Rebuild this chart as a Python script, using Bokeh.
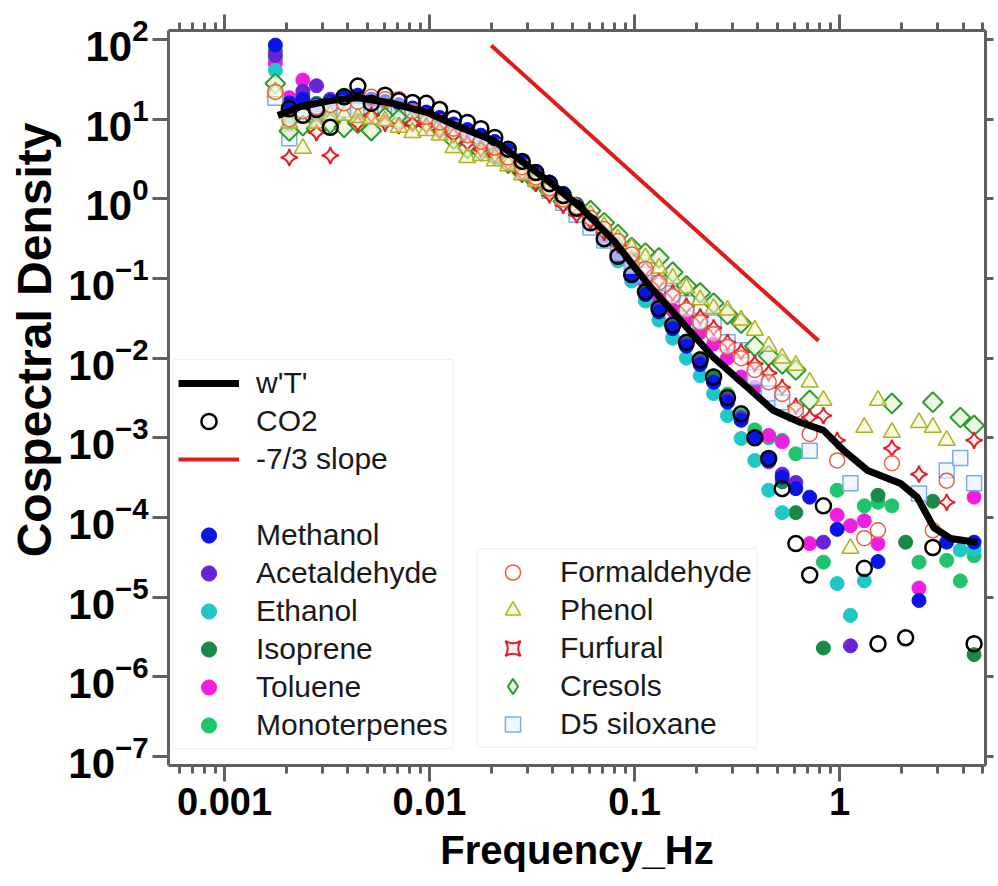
import math
from bokeh.plotting import figure
from bokeh.models import (Range1d, LogAxis, FixedTicker, Legend, LegendItem, Title,
                          LogTickFormatter, CustomJSTickFormatter)
from bokeh.embed import file_html
from bokeh.resources import INLINE

nan = float("nan")

freq = [0.00177, 0.00207, 0.00241, 0.00281, 0.00328, 0.00383, 0.00447, 0.0052, 0.00607, 0.00708,
        0.00826, 0.00964, 0.0112, 0.0131, 0.0153, 0.0178, 0.0208, 0.0242, 0.0283, 0.033,
        0.0385, 0.0449, 0.0522, 0.061, 0.0711, 0.083, 0.0968, 0.113, 0.1315, 0.1535,
        0.179, 0.209, 0.243, 0.284, 0.331, 0.386, 0.451, 0.525, 0.612, 0.715,
        0.834, 0.973, 1.13, 1.32, 1.54, 1.80, 2.10, 2.44, 2.85, 3.33, 3.88, 4.53]

methanol = [85, 16, 17.8, 15.1, 16.6, 19.1, 20, 17.8, 16.6, 15.1, 13.8, 12.3, 10.5, 8.7, 7.4, 6.3, 5.2, 4.0,
            2.95, 2.19, 1.62, 1.17, 0.85, 0.575, 0.347, 0.20, 0.112, 0.063, 0.038, 0.0234, 0.0141, 0.0083,
            0.0050, 0.0028, 0.00166, 0.0010, 5.6e-4, 3.2e-4, 2.3e-4, 1.8e-4, nan, 7.1e-5, nan, nan, 2.8e-5,
            nan, nan, 9.1e-6, nan, 4.9e-5, nan, 4.9e-5]
acetaldehyde = [63, 14.1, 22.4, 26.3, 17.8, 18.2, 19.1, 17.4, 16.2, 15.1, 13.5, 12.0, 10.2, 8.5, 7.2, 6.2, 5.2,
                4.0, 2.95, 2.19, 1.62, 1.15, 0.83, 0.56, 0.34, 0.195, 0.112, 0.063, 0.040, 0.024, 0.0148,
                0.0087, 0.0050, 0.0030, 0.00178, 0.0010, 5.0e-4, 3.5e-4, 2.75e-4, nan, 4.9e-5, nan, 2.45e-6,
                nan, nan, nan, nan, nan, nan, nan, nan, nan]
ethanol = [41, 11.2, 14.1, 14.1, 15.8, 16.6, 17.8, 16.6, 15.8, 14.8, 13.2, 11.5, 9.8, 8.1, 6.9, 5.9, 4.9, 3.7,
           2.75, 2.04, 1.48, 1.05, 0.74, 0.49, 0.295, 0.166, 0.093, 0.052, 0.030, 0.0178, 0.0100, 0.0060,
           0.0036, 0.0019, 9.8e-4, 5.2e-4, 2.2e-4, 1.15e-4, nan, nan, nan, 1.48e-5, 5.9e-6, 1.6e-5, nan,
           nan, nan, nan, nan, nan, 3.9e-5, 4.0e-5]
isoprene = [71, 12.6, 20, 15.8, 17.0, 18.6, 19.5, 17.8, 16.6, 15.1, 13.5, 12.0, 10.2, 8.5, 7.2, 6.2, 5.2, 4.0,
            2.95, 2.19, 1.62, 1.17, 0.83, 0.575, 0.355, 0.204, 0.117, 0.068, 0.042, 0.026, 0.0158, 0.0095,
            0.0056, 0.0032, 0.0018, 0.0010, 5.5e-4, 2.8e-4, 1.15e-4, nan, 2.3e-6, nan, nan, nan, 1.9e-4,
            nan, 4.9e-5, nan, 1.6e-4, nan, nan, 1.9e-6]
toluene = [50, 18.6, 31, 11.2, 14.1, 17.8, 19.1, 17.4, 16.2, 15.1, 13.5, 12.0, 10.2, 8.5, 7.2, 6.2, 5.2, 4.0,
           2.95, 2.19, 1.62, 1.17, 0.85, 0.59, 0.38, 0.24, 0.145, 0.087, 0.055, 0.040, 0.0295, 0.021,
           0.0151, 0.0100, 0.0058, 0.0043, 0.00107, 8.9e-4, nan, 4.7e-5, nan, 1.07e-4, 7.9e-5, 9.1e-5,
           4.7e-5, nan, nan, 1.3e-5, nan, nan, nan, 1.8e-4]
monoterpenes = [56, 8.9, 17.8, 13.5, 15.8, 20, 18.6, 17.8, 16.6, 15.1, 13.5, 12.0, 10.2, 8.5, 7.2, 6.2, 5.2,
                4.0, 2.95, 2.19, 1.62, 1.17, 0.83, 0.56, 0.347, 0.20, 0.115, 0.066, 0.042, 0.026, 0.0162,
                0.0100, 0.0060, 0.00355, 0.0020, 0.00126, 0.0010, 9.3e-4, 6.3e-4, nan, 2.75e-5, 2.2e-4, nan,
                1.4e-4, 1.55e-4, 1.4e-4, nan, 2.75e-5, nan, 2.9e-5, 1.6e-5, 3.3e-5]
co2 = [nan, 13.5, 11.2, 13.2, 7.9, 19.1, 26, 15.8, 20, 17, 16.2, 15.8, 13.2, 10.2, 9.1, 7.6, 5.9, 4.2, 2.95,
       2.14, 1.55, 1.10, 0.76, 0.50, 0.316, 0.19, 0.112, 0.068, 0.042, 0.026, 0.0158, 0.0095, 0.0058,
       0.0032, 0.0020, 0.0010, 5.5e-4, 2.3e-4, 4.7e-5, 1.9e-5, 1.4e-4, nan, nan, 2.3e-5, 2.6e-6, nan,
       3.1e-6, nan, 4.2e-5, nan, nan, 2.6e-6]
formaldehyde = [22, 10, 12.6, 14.1, 15.1, 15.8, 16.6, 19.1, 17.8, 17.8, 12.6, 10.7, 9.1, 7.6, 6.3, 5.2, 4.4,
                3.3, 2.5, 1.86, 1.35, 0.98, 0.79, 0.575, 0.417, 0.295, 0.20, 0.132, 0.089, 0.060, 0.040,
                0.028, 0.020, 0.0138, 0.0100, 0.0071, 0.0050, 0.00355, 0.00224, 0.00112, nan, 5.2e-4, nan,
                5.5e-5, 6.9e-5, 4.8e-4, nan, nan, 6.9e-5, 2.9e-4, nan, nan]
phenol = [22, 8.9, 4.3, 8.9, 11.2, 11.2, 10.5, 10, 9.5, 7.9, 6.8, 7.2, 6.3, 4.4, 3.3, 3.5, 3.0, 2.6, 2.0,
          1.66, 1.32, 1.0, 0.76, 0.63, 0.45, 0.316, 0.24, 0.182, 0.135, 0.100, 0.076, 0.054, 0.042, 0.040,
          0.030, 0.0224, 0.0141, 0.010, 0.0081, 0.0050, 0.00295, nan, 4.1e-5, 0.00135, 0.00295, 0.00117,
          nan, 0.00155, 0.00135, 9.3e-4, nan, nan]
furfural = [nan, 3.3, nan, 6.8, 3.5, nan, 8.9, 11.2, 8.9, 8.3, 8.9, 8.3, 7.2, 6.3, 5.0, 4.2, 3.5, 2.8, 2.1,
            1.58, 1.12, 0.83, 0.63, 0.525, 0.38, 0.263, 0.178, 0.132, 0.093, 0.066, 0.045, 0.033, 0.024,
            0.0158, 0.012, 0.0085, 0.0065, 0.0043, 0.0025, 0.0018, 0.0019, 9.3e-4, nan, nan, nan, 7.4e-4,
            nan, 3.5e-4, nan, 1.55e-4, nan, 9.3e-4]
cresols = [28, 7.1, 8.3, 7.6, 8.9, 7.9, 8.9, 7.2, 10.5, 10, 9.5, 9.1, 7.6, 5.6, 4.3, 4.0, 3.5, 2.8, 2.14,
           1.66, 1.26, 0.93, 0.79, 0.71, 0.50, 0.355, 0.245, 0.209, 0.182, 0.120, 0.081, 0.066, 0.049,
           0.0355, 0.0275, 0.0141, 0.0107, 0.0085, 0.0071, 0.00295, nan, nan, nan, nan, nan, 0.0027, nan,
           nan, 0.0028, nan, 0.0018, 0.00143]
d5_siloxane = [18.6, 5.75, 11.2, 12.6, 14.1, 13.2, 12.9, 13.2, 12.6, 12.6, 12.0, 10.5, 9.1, 7.6, 6.3, 5.2,
               4.4, 3.3, 2.45, 1.78, 1.26, 0.89, 0.63, 0.437, 0.30, 0.209, 0.145, 0.112, 0.087, 0.065, 0.049,
               0.0295, 0.028, 0.0158, 0.0126, 0.0058, 0.0036, 0.0028, 0.0020, 6.9e-4, nan, nan, 2.7e-4, nan,
               nan, nan, nan, 2.0e-4, nan, 3.9e-4, 5.6e-4, 2.7e-4]

wt_freq = [0.00182, 0.00235, 0.00329, 0.00446, 0.00667, 0.00977, 0.01416, 0.0205, 0.024, 0.0377, 0.0546,
           0.0791, 0.1156, 0.1675, 0.2427, 0.3556, 0.4764, 0.6457, 0.8356, 1.047, 1.371, 1.986, 2.399,
           2.877, 3.475, 4.71]
wt_val = [11.1, 14.4, 17.1, 18.7, 15.7, 12.1, 7.85, 5.4, 4.05, 1.70, 0.778, 0.30, 0.0865, 0.0297, 0.0102,
          0.00429, 0.0022, 0.00156, 0.00124, 6.93e-4, 3.89e-4, 2.67e-4, 1.78e-4, 7.5e-5, 5.46e-5, 4.85e-5]

slope_freq = [0.02, 0.79]
slope_val = [84, 0.0165]

x_major = [0.001, 0.01, 0.1, 1]
y_major = [1e-7, 1e-6, 1e-5, 1e-4, 1e-3, 1e-2, 1e-1, 1, 10, 100]

AX = "#606060"
FONT = "Liberation Sans"

p = figure(width=996, height=886, x_axis_type="log", y_axis_type="log",
           x_range=Range1d(5.33e-4, 5.15), y_range=Range1d(7.71e-8, 129.7),
           output_backend="svg", toolbar_location=None,
           min_border_left=168, min_border_top=30, min_border_right=11, min_border_bottom=121)
p.grid.visible = False
p.outline_line_color = None
p.background_fill_color = "white"

minor_x = [m * d for d in (1e-4, 1e-3, 1e-2, 1e-1, 1) for m in range(2, 10) if 5.33e-4 < m * d < 5.15]
xt = FixedTicker(ticks=x_major, minor_ticks=minor_x)
yt = FixedTicker(ticks=y_major, minor_ticks=[])


def style_axis(ax, minor=True):
    ax.axis_line_color = AX
    ax.axis_line_width = 3
    ax.major_tick_line_color = AX
    ax.major_tick_line_width = 3
    ax.minor_tick_line_color = AX if minor else None
    ax.minor_tick_line_width = 3
    ax.major_tick_in = 0
    ax.major_tick_out = 16
    ax.minor_tick_in = 0
    ax.minor_tick_out = 8


xa = p.xaxis[0]
xa.ticker = xt
xa.formatter = CustomJSTickFormatter(code="return tick.toString();")
style_axis(xa)
xa.major_label_text_font = FONT
xa.major_label_text_font_style = "bold"
xa.major_label_text_font_size = "38px"
xa.major_label_text_color = "black"
xa.major_label_standoff = 6
xa.axis_label = "Frequency_Hz"
xa.axis_label_text_font = FONT
xa.axis_label_text_font_style = "bold"
xa.axis_label_text_font_size = "40px"
xa.axis_label_text_color = "black"
xa.axis_label_standoff = 10

ya = p.yaxis[0]
ya.ticker = yt
ya.formatter = LogTickFormatter()
style_axis(ya, minor=False)
ya.major_label_text_font = FONT
ya.major_label_text_font_style = "bold"
ya.major_label_text_font_size = "42px"
ya.major_label_text_color = "black"
ya.major_label_standoff = 4

# y-axis title as a side title, so that it can sit above the frame centre like the reference
ytitle = Title(text="Cospectral Density", align="right", offset=92, vertical_align="top", standoff=6,
               text_font=FONT, text_font_style="bold", text_font_size="48px", text_color="black")
p.add_layout(ytitle, "left")

top = LogAxis(ticker=FixedTicker(ticks=x_major, minor_ticks=minor_x))
style_axis(top)
top.formatter = CustomJSTickFormatter(code="return '';")
top.major_label_text_font_size = "8px"
top.major_label_standoff = 0
p.add_layout(top, "above")

right = LogAxis(ticker=FixedTicker(ticks=y_major, minor_ticks=[]))
style_axis(right, minor=False)
right.major_tick_out = 8
right.formatter = CustomJSTickFormatter(code="return '';")
right.major_label_text_font_size = "8px"
right.major_label_standoff = 0
p.add_layout(right, "right")

filled = [
    ("Monoterpenes", monoterpenes, "#20c46c"),
    ("Toluene", toluene, "#f01ee0"),
    ("Isoprene", isoprene, "#178a48"),
    ("Ethanol", ethanol, "#1ec8c8"),
    ("Acetaldehyde", acetaldehyde, "#6a22d8"),
    ("Methanol", methanol, "#0a14e6"),
]
rend = {}
for name, vals, col in filled:
    rend[name] = p.scatter(freq, vals, marker="circle", size=14, fill_color=col, line_color=col,
                           line_width=1)

rend["D5 siloxane"] = p.scatter(freq, d5_siloxane, marker="square", size=15, fill_color="#eaf4ff",
                                fill_alpha=0.7, line_color="#78aee8", line_width=1.5)
rend["Cresols"] = p.scatter(freq, cresols, marker="square", angle=math.pi / 4, size=14,
                            fill_color="#dff5cf", fill_alpha=0.6, line_color="#2e9a2e", line_width=2)
rend["Furfural"] = p.scatter(freq, furfural, marker="square_pin", angle=math.pi / 4, size=12,
                             fill_color="#ffe4e4", fill_alpha=0.6, line_color="#e0202a", line_width=2)
rend["Phenol"] = p.scatter(freq, phenol, marker="triangle", size=17, fill_color="#f5f5c8", fill_alpha=0.6,
                           line_color="#b0b020", line_width=1.5)
rend["Formaldehyde"] = p.scatter(freq, formaldehyde, marker="circle", size=15, fill_color="white",
                                 fill_alpha=0.5, line_color="#e8603c", line_width=1.5)
rend["CO2"] = p.scatter(freq, co2, marker="circle", size=15, fill_color=None, line_color="black",
                        line_width=2.5)
rend["w'T'"] = p.line(wt_freq, wt_val, line_color="black", line_width=7)
rend["slope"] = p.line(slope_freq, slope_val, line_color="#e01b1b", line_width=4)

# legend-only glyphs (legend markers are drawn unrotated)
blank = p.scatter([nan], [nan], marker="circle", size=1, fill_alpha=0, line_alpha=0)
cres_key = p.scatter([nan], [nan], marker="diamond", size=20, fill_color="#dff5cf", fill_alpha=0.6,
                     line_color="#2e9a2e", line_width=2)

common = dict(label_text_font=FONT, label_text_font_size="30px", label_text_color="#1a1a1a",
              glyph_width=61, glyph_height=38, label_height=38, spacing=0, padding=4, margin=0,
              label_standoff=17, border_line_color="#e4e4e4", border_line_width=1,
              background_fill_color="white", background_fill_alpha=1)

leg1 = Legend(items=[
    LegendItem(label="w'T'", renderers=[rend["w'T'"]]),
    LegendItem(label="CO2", renderers=[rend["CO2"]]),
    LegendItem(label="-7/3 slope", renderers=[rend["slope"]]),
    LegendItem(label=" ", renderers=[blank]),
    LegendItem(label="Methanol", renderers=[rend["Methanol"]]),
    LegendItem(label="Acetaldehyde", renderers=[rend["Acetaldehyde"]]),
    LegendItem(label="Ethanol", renderers=[rend["Ethanol"]]),
    LegendItem(label="Isoprene", renderers=[rend["Isoprene"]]),
    LegendItem(label="Toluene", renderers=[rend["Toluene"]]),
    LegendItem(label="Monoterpenes", renderers=[rend["Monoterpenes"]]),
], location=(5, 16), **common)

leg2 = Legend(items=[
    LegendItem(label="Formaldehyde", renderers=[rend["Formaldehyde"]]),
    LegendItem(label="Phenol", renderers=[rend["Phenol"]]),
    LegendItem(label="Furfural", renderers=[rend["Furfural"]]),
    LegendItem(label="Cresols", renderers=[cres_key]),
    LegendItem(label="D5 siloxane", renderers=[rend["D5 siloxane"]]),
], location=(309, 17), **common)

p.add_layout(leg1)
p.add_layout(leg2)

open("out.html", "w").write(file_html(p, INLINE))
